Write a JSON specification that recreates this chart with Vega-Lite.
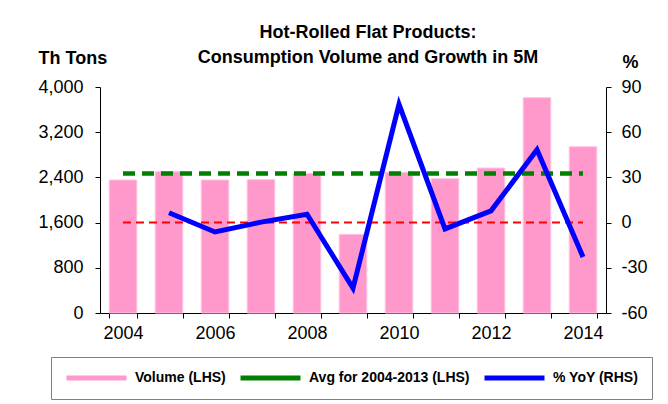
{
  "$schema": "https://vega.github.io/schema/vega-lite/v6.json",
  "width": 506,
  "height": 226,
  "autosize": "none",
  "padding": {"left": 100, "top": 87, "right": 62, "bottom": 91},
  "background": "white",
  "config": {
    "font": "Liberation Sans",
    "view": {"stroke": null},
    "axis": {"grid": false, "domainColor": "black", "tickColor": "black", "labelColor": "black", "labelFontSize": 18, "labelFont": "Liberation Sans", "tickSize": 5, "domainWidth": 1, "tickWidth": 1}
  },
  "title": {
    "text": ["Hot-Rolled Flat Products:", "Consumption Volume and Growth in 5M"],
    "fontSize": 18,
    "fontWeight": "bold",
    "font": "Liberation Sans",
    "color": "black",
    "lineHeight": 25,
    "anchor": "middle",
    "frame": "group",
    "offset": 0,
    "dx": 15,
    "dy": 18
  },
  "data": {
    "values": [
      {"year": 2004, "volume": 2354, "yoy": null, "avg": 2468, "zero": 0},
      {"year": 2005, "volume": 2501, "yoy": 6.5, "avg": 2468, "zero": 0},
      {"year": 2006, "volume": 2354, "yoy": -6.2, "avg": 2468, "zero": 0},
      {"year": 2007, "volume": 2360, "yoy": 0.3, "avg": 2468, "zero": 0},
      {"year": 2008, "volume": 2472, "yoy": 5.6, "avg": 2468, "zero": 0},
      {"year": 2009, "volume": 1392, "yoy": -43.5, "avg": 2468, "zero": 0},
      {"year": 2010, "volume": 2490, "yoy": 78.5, "avg": 2468, "zero": 0},
      {"year": 2011, "volume": 2377, "yoy": -4.2, "avg": 2468, "zero": 0},
      {"year": 2012, "volume": 2566, "yoy": 7.8, "avg": 2468, "zero": 0},
      {"year": 2013, "volume": 3811, "yoy": 48.4, "avg": 2468, "zero": 0},
      {"year": 2014, "volume": 2944, "yoy": -22.8, "avg": 2468, "zero": 0}
    ]
  },
  "encoding": {
    "x": {
      "field": "year",
      "type": "ordinal",
      "scale": {"paddingInner": 0.4, "paddingOuter": 0.2},
      "axis": {
        "title": null,
        "labelAngle": 0,
        "tickBand": "extent",
        "labelPadding": 6,
        "labelExpr": "datum.value % 2 == 0 ? datum.label : ''"
      }
    }
  },
  "layer": [
    {
      "layer": [
        {
          "mark": {"type": "bar", "color": "#FF99CC", "stroke": "#FFC4E2", "strokeWidth": 1},
          "encoding": {
            "y": {
              "field": "volume", "type": "quantitative",
              "scale": {"domain": [0, 4000]},
              "axis": {"title": "Th Tons", "values": [0, 800, 1600, 2400, 3200, 4000], "format": ",d", "labelPadding": 12, "titleAngle": 0, "titleAlign": "left", "titleBaseline": "alphabetic", "titleX": -62, "titleY": -24, "titleFontSize": 18, "titleFontWeight": "bold", "titleColor": "black"}
            },
            "color": {
              "datum": "Volume (LHS)",
              "scale": {"domain": ["Volume (LHS)", "Avg for 2004-2013 (LHS)", "% YoY (RHS)"], "range": ["#FF99CC", "#008000", "#0000FF"]},
              "legend": {
                "title": null,
                "orient": "none",
                "legendX": -49,
                "legendY": 270,
                "direction": "horizontal",
                "columns": 3,
                "symbolType": "stroke",
                "symbolSize": 3600,
                "symbolStrokeWidth": 5,
                "clipHeight": 16,
                "labelFontSize": 14,
                "labelFontWeight": "bold",
                "labelColor": "black",
                "labelLimit": 300,
                "labelOffset": 6,
                "columnPadding": 12,
                "padding": 13,
                "strokeColor": "#808080",
                "fillColor": "white"
              }
            }
          }
        },
        {
          "mark": {"type": "line", "strokeWidth": 4.5, "strokeDash": [12, 7]},
          "encoding": {
            "y": {
              "field": "avg", "type": "quantitative",
              "scale": {"domain": [0, 4000]},
              "axis": {"title": "Th Tons", "values": [0, 800, 1600, 2400, 3200, 4000], "format": ",d", "labelPadding": 12, "titleAngle": 0, "titleAlign": "left", "titleBaseline": "alphabetic", "titleX": -62, "titleY": -24, "titleFontSize": 18, "titleFontWeight": "bold", "titleColor": "black"}
            },
            "color": {"datum": "Avg for 2004-2013 (LHS)"}
          }
        }
      ]
    },
    {
      "layer": [
        {
          "mark": {"type": "line", "color": "#FF0000", "strokeWidth": 2, "strokeDash": [8, 5]},
          "encoding": {
            "y": {
              "field": "zero", "type": "quantitative",
              "scale": {"domain": [-60, 90]},
              "axis": {"orient": "right", "title": "%", "values": [-60, -30, 0, 30, 60, 90], "labelExpr": "'' + datum.value", "labelPadding": 10, "titleAngle": 0, "titleAlign": "left", "titleBaseline": "alphabetic", "titleX": 16, "titleY": -20, "titleFontSize": 18, "titleFontWeight": "bold", "titleColor": "black"}
            }
          }
        },
        {
          "mark": {"type": "line", "strokeWidth": 5},
          "encoding": {
            "y": {
              "field": "yoy", "type": "quantitative",
              "scale": {"domain": [-60, 90]},
              "axis": {"orient": "right", "title": "%", "values": [-60, -30, 0, 30, 60, 90], "labelExpr": "'' + datum.value", "labelPadding": 10, "titleAngle": 0, "titleAlign": "left", "titleBaseline": "alphabetic", "titleX": 16, "titleY": -20, "titleFontSize": 18, "titleFontWeight": "bold", "titleColor": "black"}
            },
            "color": {"datum": "% YoY (RHS)"}
          }
        }
      ]
    }
  ],
  "resolve": {"scale": {"y": "independent"}}
}
